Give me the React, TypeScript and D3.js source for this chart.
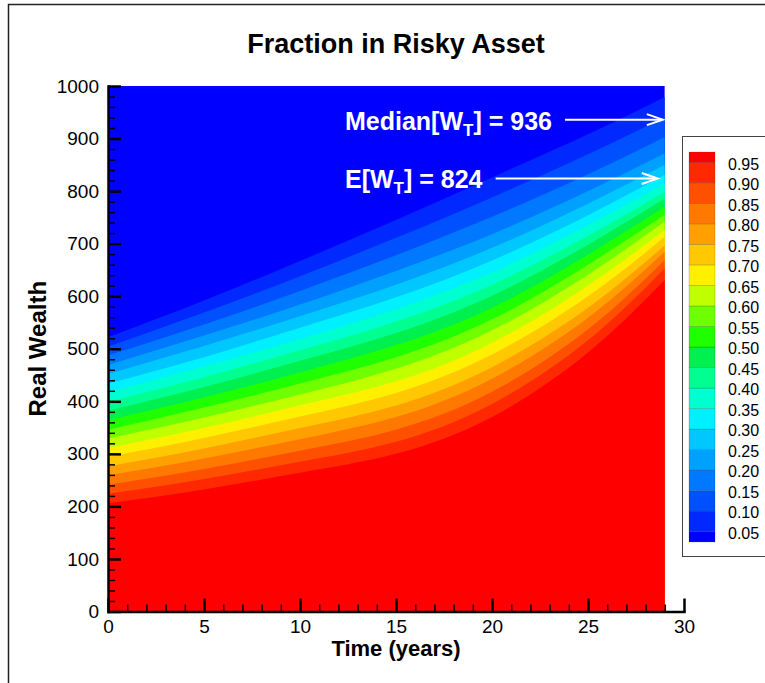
import React, { useEffect, useRef } from 'react';
import * as d3 from 'd3';

const years = [0, 5, 10, 15, 20, 25, 29];

// real wealth at which the risky fraction crosses each contour level
const w05 = [522, 592, 667, 745, 826, 908, 979];
const w10 = [504, 569, 638, 711, 788, 870, 941];
const w15 = [487, 546, 610, 678, 751, 832, 903];
const w20 = [469, 525, 584, 648, 718, 800, 872];
const w25 = [452, 505, 562, 622, 692, 776, 850];
const w30 = [434, 484, 540, 598, 668, 754, 831];
const w35 = [417, 466, 518, 575, 645, 735, 815];
const w40 = [399, 446, 497, 552, 622, 715, 799];
const w45 = [382, 427, 477, 530, 601, 698, 786];
const w50 = [364, 407, 455, 507, 578, 679, 770];
const w55 = [346, 388, 434, 484, 556, 660, 755];
const w60 = [329, 369, 413, 462, 535, 641, 742];
const w65 = [311, 349, 392, 438, 511, 620, 726];
const w70 = [294, 330, 371, 416, 489, 600, 713];
const w75 = [276, 310, 349, 392, 465, 578, 697];
const w80 = [259, 291, 328, 370, 443, 559, 685];
const w85 = [241, 271, 306, 346, 418, 537, 669];
const w90 = [224, 252, 285, 323, 395, 516, 653];
const w95 = [206, 232, 264, 300, 370, 493, 631];

const levels = [0.05, 0.1, 0.15, 0.2, 0.25, 0.3, 0.35, 0.4, 0.45, 0.5, 0.55, 0.6, 0.65, 0.7, 0.75, 0.8, 0.85, 0.9, 0.95];
const contours = [w05, w10, w15, w20, w25, w30, w35, w40, w45, w50, w55, w60, w65, w70, w75, w80, w85, w90, w95];
const levelLabels = ['0.05', '0.10', '0.15', '0.20', '0.25', '0.30', '0.35', '0.40', '0.45', '0.50', '0.55', '0.60', '0.65', '0.70', '0.75', '0.80', '0.85', '0.90', '0.95'];

const xTicks = [0, 5, 10, 15, 20, 25, 30];
const yTicks = [0, 100, 200, 300, 400, 500, 600, 700, 800, 900, 1000];

const medianWealth = 936;
const meanWealth = 824;

// flood colours, lowest band first
const bandColors = [
  '#0000ff', '#0028ff', '#0050ff', '#0078ff', '#00a0ff', '#00c8ff', '#00f0ff',
  '#00ffd0', '#00ff90', '#00f050', '#20ff00', '#70ff00', '#c0ff00', '#fff000',
  '#ffc800', '#ffa000', '#ff7800', '#ff5000', '#ff2800', '#ff0000',
];

const font = "'Liberation Sans', Arial, Helvetica, sans-serif";

const App = () => {
  const ref = useRef<SVGSVGElement>(null);

  useEffect(() => {
    const svg = d3.select(ref.current);
    svg.selectAll('*').remove();

    const x = d3.scaleLinear().domain([0, 30]).range([108, 684]);
    const y = d3.scaleLinear().domain([0, 1000]).range([611.5, 86]);

    // frame round the whole figure
    svg.append('rect')
      .attr('x', 8.5).attr('y', 4.5).attr('width', 800).attr('height', 720)
      .attr('fill', 'white').attr('stroke', '#222').attr('stroke-width', 1.5);

    svg.append('text')
      .attr('x', (x(0) + x(30)) / 2).attr('y', 53)
      .attr('text-anchor', 'middle')
      .attr('font-family', font).attr('font-weight', 'bold').attr('font-size', 27)
      .text('Fraction in Risky Asset');

    // contour flood
    svg.append('defs').append('clipPath').attr('id', 'field-clip')
      .append('rect')
      .attr('x', x(0)).attr('y', y(1000))
      .attr('width', x(29) - x(0)).attr('height', y(0) - y(1000));

    const field = svg.append('g').attr('clip-path', 'url(#field-clip)');
    field.append('rect')
      .attr('x', x(0)).attr('y', y(1000))
      .attr('width', x(29) - x(0)).attr('height', y(0) - y(1000))
      .attr('fill', bandColors[0]);

    const area = d3.area<number>()
      .x((_, j) => x(years[j]))
      .y0(y(-50))
      .y1(d => y(d))
      .curve(d3.curveNatural);

    contours.forEach((w, i) => {
      field.append('path').attr('d', area(w)).attr('fill', bandColors[i + 1]);
    });

    // axes, ticks pointing inwards
    const styleAxis = (g, width) => {
      g.attr('font-family', font).attr('font-size', 19);
      g.select('.domain').attr('stroke', '#000').attr('stroke-width', 2.5);
      g.selectAll('.tick line').attr('stroke', '#000').attr('stroke-width', width);
      g.selectAll('.tick text').attr('fill', '#000');
    };

    const yMinor = d3.range(0, 1001, 20).filter(v => v % 100 !== 0);
    const xMinor = d3.range(0, 31, 1).filter(v => v % 5 !== 0);

    const yMin = svg.append('g').attr('transform', `translate(${x(0)},0)`)
      .call(d3.axisLeft(y).tickValues(yMinor).tickSize(-7).tickSizeOuter(0).tickFormat(() => ''));
    yMin.select('.domain').remove();
    styleAxis(yMin, 1.5);

    const xMin = svg.append('g').attr('transform', `translate(0,${y(0)})`)
      .call(d3.axisBottom(x).tickValues(xMinor).tickSize(-7).tickSizeOuter(0).tickFormat(() => ''));
    xMin.select('.domain').remove();
    styleAxis(xMin, 1.5);

    const yAx = svg.append('g').attr('transform', `translate(${x(0)},0)`)
      .call(d3.axisLeft(y).tickValues(yTicks).tickSize(-13).tickSizeOuter(0).tickPadding(9).tickFormat(d3.format('d')));
    styleAxis(yAx, 2.5);

    const xAx = svg.append('g').attr('transform', `translate(0,${y(0)})`)
      .call(d3.axisBottom(x).tickValues(xTicks).tickSize(-13).tickSizeOuter(0).tickPadding(8.5).tickFormat(d3.format('d')));
    styleAxis(xAx, 2.5);
    xAx.select('.domain').attr('stroke-linecap', 'square');
    yAx.select('.domain').attr('stroke-linecap', 'square');

    svg.append('text')
      .attr('x', (x(0) + x(30)) / 2).attr('y', 656)
      .attr('text-anchor', 'middle')
      .attr('font-family', font).attr('font-weight', 'bold').attr('font-size', 22)
      .text('Time (years)');

    svg.append('text')
      .attr('transform', `translate(46,${(y(0) + y(1000)) / 2}) rotate(-90)`)
      .attr('text-anchor', 'middle')
      .attr('font-family', font).attr('font-weight', 'bold').attr('font-size', 24)
      .text('Real Wealth');

    // annotations with arrows pointing at the final-time wealth
    const note = (prefix, value, tipGap) => {
      const yy = y(value);
      const t = svg.append('text')
        .attr('x', 345).attr('y', yy + 10)
        .attr('font-family', font).attr('font-weight', 'bold').attr('font-size', 25)
        .attr('fill', 'white');
      t.append('tspan').text(prefix + '[W');
      t.append('tspan').attr('font-size', 17).attr('dy', 6).text('T');
      t.append('tspan').attr('dy', -6).text(`] = ${value}`);
      const box = (t.node() as SVGTextElement).getBBox();
      const start = box.x + box.width + 13;
      const tip = x(29) - tipGap;
      svg.append('line')
        .attr('x1', start).attr('x2', tip - 1).attr('y1', yy).attr('y2', yy)
        .attr('stroke', 'white').attr('stroke-width', 2);
      svg.append('path')
        .attr('d', `M${tip - 16},${yy - 5.5}L${tip},${yy}L${tip - 16},${yy + 5.5}`)
        .attr('fill', 'none').attr('stroke', 'white').attr('stroke-width', 2);
    };
    note('Median', medianWealth, 2);
    note('E', meanWealth, 7);

    // legend
    const legend = svg.append('g');
    legend.append('rect')
      .attr('x', 682.5).attr('y', 136.5).attr('width', 120).attr('height', 420)
      .attr('fill', 'white').attr('stroke', '#444').attr('stroke-width', 1);

    const ly = d3.scaleLinear().domain([0.05, 0.95]).range([531.7, 162.3]);
    const half = (ly(0.05) - ly(0.1)) / 2;
    const swatch = (top, bottom, color) => {
      legend.append('rect')
        .attr('x', 689).attr('y', top).attr('width', 26).attr('height', bottom - top)
        .attr('fill', color).attr('stroke', 'rgba(0,0,0,0.25)').attr('stroke-width', 0.6);
    };
    swatch(ly(0.05), ly(0.05) + half, bandColors[0]);
    levels.slice(1).forEach((lv, i) => swatch(ly(lv), ly(levels[i]), bandColors[i + 1]));
    swatch(ly(0.95) - half, ly(0.95), bandColors[19]);

    levels.forEach((lv, i) => {
      legend.append('text')
        .attr('x', 728).attr('y', ly(lv) + 1.6).attr('dy', '0.35em')
        .attr('font-family', font).attr('font-size', 16)
        .text(levelLabels[i]);
    });
  }, []);

  return (
    <svg
      ref={ref}
      width={765}
      height={683}
      style={{ position: 'absolute', left: 0, top: 0, background: 'white' }}
    />
  );
};

export default App;
